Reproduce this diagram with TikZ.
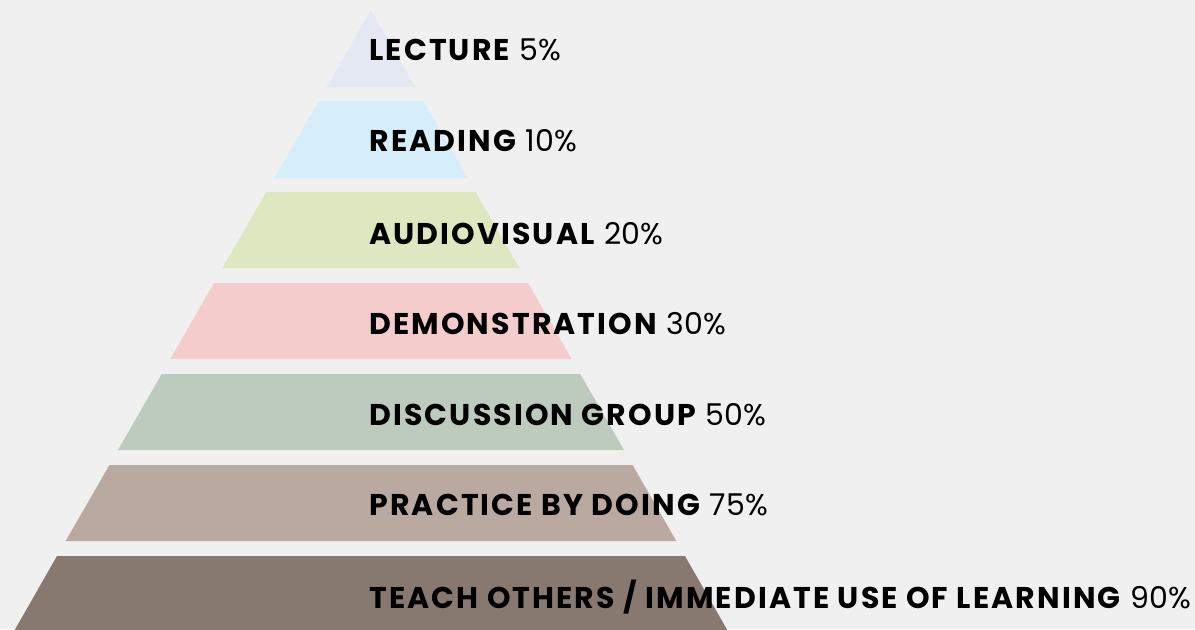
\documentclass[tikz,border=0pt]{standalone}
\usepackage{fontspec}
\setmainfont{Poppins}
\newfontfamily\labfont[LetterSpace=7]{Poppins}
\usetikzlibrary{positioning}

\definecolor{bgcol}{HTML}{F0F0F0}
\definecolor{lecturecol}{HTML}{E3E8F2}
\definecolor{readingcol}{HTML}{D6EEFA}
\definecolor{audiocol}{HTML}{DDE8C0}
\definecolor{democol}{HTML}{F5CCCC}
\definecolor{discol}{HTML}{BCCBBE}
\definecolor{practicecol}{HTML}{BAA9A0}
\definecolor{teachcol}{HTML}{877870}

\tikzset{
  label/.style={anchor=base west, inner sep=0pt, font=\fontsize{15}{18}\selectfont},
}
\newcommand{\lab}[2]{{\labfont\bfseries #1}\hspace{0.33em}#2}

\begin{document}
\begin{tikzpicture}[x=0.5pt,y=-0.5pt]
\fill[bgcol] (0,0) rectangle (1195,629);
\useasboundingbox (0,0) rectangle (1195,629);
\clip (0,0) rectangle (1195,629);
% pyramid layers, top to bottom
\fill[lecturecol] (371,10) -- (415.3,87) -- (326.7,87) -- cycle;
\fill[readingcol] (318.7,101) -- (423.3,101) -- (467.6,178) -- (274.4,178) -- cycle;
\fill[audiocol] (266.3,192) -- (475.7,192) -- (519.4,268) -- (222.6,268) -- cycle;
\fill[democol] (214,283) -- (528,283) -- (571.7,359) -- (170.3,359) -- cycle;
\fill[discol] (161.7,374) -- (580.3,374) -- (624,450) -- (118,450) -- cycle;
\fill[practicecol] (109.4,465) -- (632.6,465) -- (676.3,541) -- (65.7,541) -- cycle;
\fill[teachcol] (57,556) -- (685,556) -- (733,640) -- (9,640) -- cycle;
% labels
\node[label] (lecture) at (369,60) {\lab{LECTURE}{5\%}};
\node[label] (reading) at (369,151) {\lab{READING}{10\%}};
\node[label] (audio) at (369,244) {\lab{AUDIOVISUAL}{20\%}};
\node[label] (demo) at (369,334) {\lab{DEMONSTRATION}{30\%}};
\node[label] (discuss) at (369,425) {\lab{DISCUSSION GROUP}{50\%}};
\node[label] (practice) at (369,515) {\lab{PRACTICE BY DOING}{75\%}};
\node[label] (teach) at (369,608) {\lab{TEACH OTHERS / IMMEDIATE USE OF LEARNING}{90\%}};
\end{tikzpicture}
\end{document}
